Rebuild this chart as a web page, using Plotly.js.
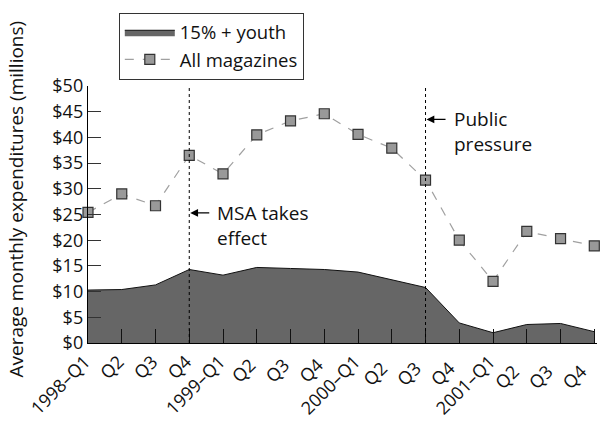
<!DOCTYPE html>
<html><head><meta charset="utf-8">
<script src="https://cdn.plot.ly/plotly-3.0.1.min.js"></script>
<style>html,body{margin:0;padding:0;background:#fff}#c{width:600px;height:422px}</style>
</head><body><div id="c"></div>
<script>
const quarters = ["1998–Q1","Q2","Q3","Q4","1999–Q1","Q2 ","Q3 ","Q4 ","2000–Q1","Q2  ","Q3  ","Q4  ","2001–Q1","Q2   ","Q3   ","Q4   "];
const youth = [10.3,10.4,11.3,14.3,13.2,14.7,14.5,14.3,13.8,12.3,10.8,3.9,2.0,3.6,3.8,2.2];
const allMags = [25.4,29.0,26.7,36.5,32.9,40.5,43.2,44.6,40.6,37.9,31.7,20.0,12.0,21.7,20.3,18.9];
const yTicks = [0,5,10,15,20,25,30,35,40,45,50];
const yTitle = "Average monthly expenditures (millions)";
const events = [{idx:3, label:"MSA takes<br>effect", y:25.3}, {idx:10, label:"Public<br>pressure", y:43.5}];

const idx = quarters.map((_,i)=>i);
const FONT = "'Open Sans', Lato, sans-serif";
const traces = [
  {x:idx, y:youth, name:"15% + youth", type:"scatter", mode:"lines", fill:"tozeroy",
   fillcolor:"#666666", line:{color:"#111", width:1}},
  {x:idx, y:allMags, name:"All magazines", type:"scatter", mode:"lines+markers",
   line:{color:"#a0a0a0", width:1.2, dash:"dash"},
   marker:{symbol:"square", size:10, color:"#999999", line:{color:"#333", width:1.2}},
   cliponaxis:false}
];
const shapes = events.map(e=>({type:"line", xref:"x", yref:"paper", x0:e.idx, x1:e.idx, y0:0, y1:1,
  line:{color:"#000", width:1, dash:"dot"}}));
const annotations = [];
events.forEach(e=>{
  annotations.push({x:e.idx, y:e.y, xref:"x", yref:"y", text:" ", showarrow:true, ax:24, ay:0,
    arrowhead:2, arrowsize:1.2, arrowwidth:1.3, arrowcolor:"#000", standoff:1});
  annotations.push({x:e.idx, y:e.y, xref:"x", yref:"y", text:e.label, showarrow:false,
    xanchor:"left", yanchor:"top", xshift:26, yshift:15, align:"left",
    font:{family:FONT, size:19, color:"#111"}});
});
annotations.push({x:-0.1415, y:0.562, xref:"paper", yref:"paper", text:yTitle, textangle:-90,
  showarrow:false, xanchor:"center", yanchor:"middle", font:{family:FONT, size:19, color:"#111"}});
const layout = {
  width:600, height:422, margin:{l:88, r:3, t:86, b:79},
  paper_bgcolor:"#fff", plot_bgcolor:"#fff",
  font:{family:FONT, size:18, color:"#111"},
  showlegend:true,
  legend:{x:0.0605, y:1.285, xanchor:"left", yanchor:"top", bordercolor:"#333", borderwidth:1,
    bgcolor:"#fff", font:{family:FONT, size:18.5, color:"#111"}, tracegroupgap:0, itemwidth:50},
  xaxis:{type:"linear", range:[0,15.08], tickvals:idx, ticktext:quarters, tickangle:-45,
    ticks:"inside", ticklen:14, tickcolor:"#111", tickwidth:1, showgrid:false, zeroline:false,
    showline:true, linecolor:"#000", linewidth:1.2, ticklabeloverflow:"allow", ticklabelshift:-3,
    tickfont:{family:FONT, size:18, color:"#111"}},
  yaxis:{range:[0,50], tickvals:yTicks, ticktext:yTicks.map(v=>"$"+v), ticks:"inside", ticklen:13,
    tickcolor:"#333", tickwidth:1, showgrid:false, zeroline:false, showline:true, linecolor:"#000",
    linewidth:1.2, tickfont:{family:FONT, size:18, color:"#111"}},
  shapes:shapes, annotations:annotations
};
Plotly.newPlot("c", traces, layout, {displayModeBar:false, staticPlot:true});
</script></body></html>
